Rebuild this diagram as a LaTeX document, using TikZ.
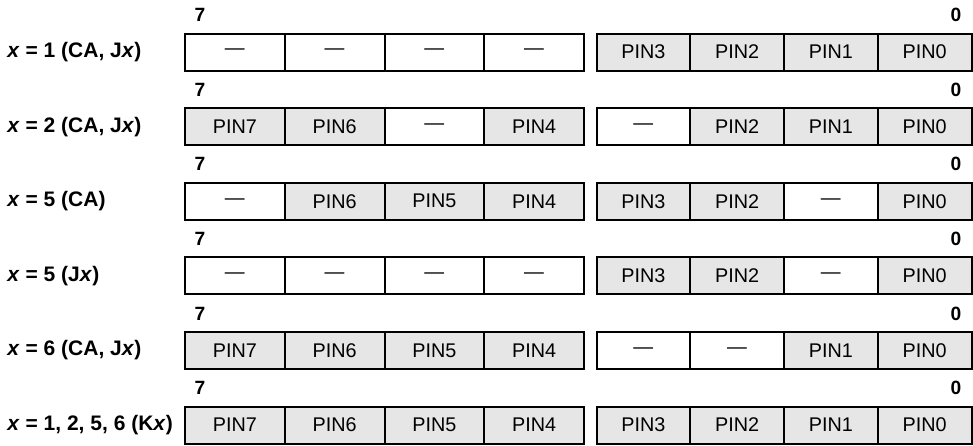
\documentclass[tikz,border=0pt]{standalone}
\usepackage{fontspec}
\setmainfont{Liberation Sans}
\usetikzlibrary{positioning}
\definecolor{cellgray}{RGB}{230,230,230}
\tikzset{
  pincell/.style={
    draw=black, fill=cellgray, line width=1pt,
    minimum height=18.5pt, inner sep=0pt,
    font=\fontsize{9.9}{11}\selectfont
  },
  nilcell/.style={pincell, fill=white},
  bitlabel/.style={
    font=\fontsize{9.6}{11}\selectfont\bfseries, inner sep=0pt
  },
  rowlabel/.style={
    font=\fontsize{10.5}{12}\selectfont\bfseries,
    anchor=west, inner sep=0pt
  },
}
% one register row: name, y, label, cells (bit 7 ... bit 0)
\newcommand{\pinrow}[4]{%
  \node[rowlabel] (#1-lbl) at (7,#2) {#3};
  \node[bitlabel] (#1-msb) at (200,#2-37) {7};
  \node[bitlabel] (#1-lsb) at (956,#2-37) {0};
  \foreach \sty/\txt [count=\i from 0] in {#4} {
    \pgfmathsetmacro{\cx}{\i<4 ? 185+99.75*(\i+0.5) : 596.5+93.75*(\i-3.5)}
    \pgfmathsetmacro{\cw}{\i<4 ? 49.875 : 46.875}
    \node[\sty, minimum width=\cw pt] (#1-\i) at (\cx,#2) {\txt};
  }%
}

\begin{document}
\begin{tikzpicture}[x=0.5pt, y=-0.5pt]
    \useasboundingbox (0,0) rectangle (973,445);

    %% x = 1
    \pinrow{ra}{52}{\textit{x} = 1 (CA, J\textit{x})}
      {nilcell/—, nilcell/—, nilcell/—, nilcell/—,
       pincell/PIN3, pincell/PIN2, pincell/PIN1, pincell/PIN0}

    %% x = 2
    \pinrow{rb}{126.6}{\textit{x} = 2 (CA, J\textit{x})}
      {pincell/PIN7, pincell/PIN6, nilcell/—, pincell/PIN4,
       nilcell/—, pincell/PIN2, pincell/PIN1, pincell/PIN0}

    %% x = 5 (CA)
    \pinrow{rc}{201.2}{\textit{x} = 5 (CA)}
      {nilcell/—, pincell/PIN6, pincell/PIN5, pincell/PIN4,
       pincell/PIN3, pincell/PIN2, nilcell/—, pincell/PIN0}

    %% x = 5 (Jx)
    \pinrow{rd}{275.8}{\textit{x} = 5 (J\textit{x})}
      {nilcell/—, nilcell/—, nilcell/—, nilcell/—,
       pincell/PIN3, pincell/PIN2, nilcell/—, pincell/PIN0}

    %% x = 6
    \pinrow{re}{350.4}{\textit{x} = 6 (CA, J\textit{x})}
      {pincell/PIN7, pincell/PIN6, pincell/PIN5, pincell/PIN4,
       nilcell/—, nilcell/—, pincell/PIN1, pincell/PIN0}

    %% Kx ports
    \pinrow{rf}{425}{\textit{x} = 1, 2, 5, 6 (K\textit{x})}
      {pincell/PIN7, pincell/PIN6, pincell/PIN5, pincell/PIN4,
       pincell/PIN3, pincell/PIN2, pincell/PIN1, pincell/PIN0}

\end{tikzpicture}
\end{document}
